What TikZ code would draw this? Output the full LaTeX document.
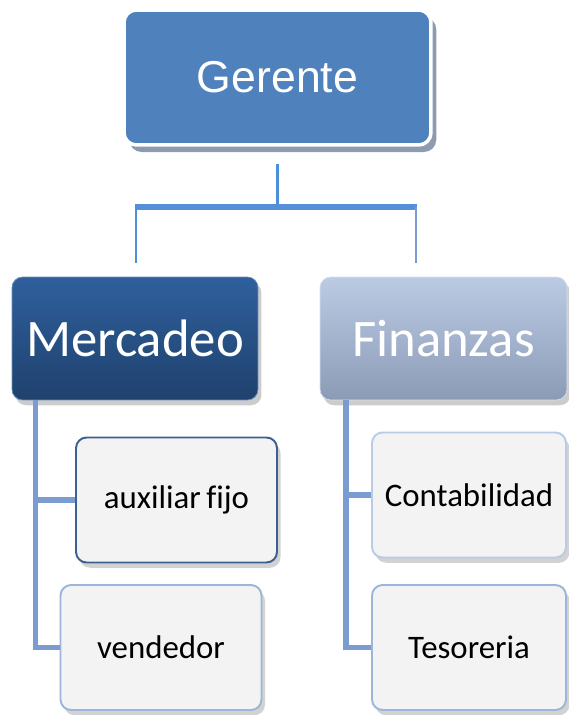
\documentclass[tikz,border=0pt]{standalone}
\usepackage{fontspec}
\setmainfont{Carlito}[Ligatures=NoCommon]
\newfontfamily\arialfont{Liberation Sans}
\usetikzlibrary{shadows}
\definecolor{gerenteblue}{HTML}{4F81BD}
\definecolor{mercadeotop}{HTML}{2F609C}
\definecolor{mercadeobot}{HTML}{1F416E}
\definecolor{finanzastop}{HTML}{BCCBE4}
\definecolor{finanzasbot}{HTML}{8B9BB6}
\definecolor{subfill}{HTML}{F3F3F3}
\definecolor{darkedge}{HTML}{3D608F}
\definecolor{lightedge}{HTML}{9DB5DB}
\definecolor{linkblue}{HTML}{4A8FD8}
\definecolor{barblue}{HTML}{558FD7}
\definecolor{trunkblue}{HTML}{7B9CD0}
\definecolor{shadowgray}{HTML}{8E9BAE}
\tikzstyle{topbox} = [rectangle, rounded corners=7pt, minimum width=6.14cm, minimum height=2.7cm, fill=gerenteblue, draw=white, line width=2pt, text=white, font=\arialfont\fontsize{25.4}{30}\selectfont, drop shadow={shadow xshift=3pt, shadow yshift=-4pt, fill=shadowgray, opacity=1}]
\tikzstyle{deptbox} = [rectangle, rounded corners=6pt, minimum width=4.92cm, minimum height=2.46cm, text=white, font=\fontsize{30}{36}\selectfont, drop shadow={shadow xshift=2pt, shadow yshift=-3pt, fill=gray, opacity=0.4}]
\tikzstyle{subbox} = [rectangle, rounded corners=6pt, minimum width=4.02cm, minimum height=2.5cm, fill=subfill, line width=1.1pt, text=black, font=\fontsize{18.7}{22}\selectfont, drop shadow={shadow xshift=2pt, shadow yshift=-3pt, fill=gray, opacity=0.35}]
\tikzstyle{link} = [line width=1.3pt, draw=linkblue]
\tikzstyle{bar} = [line width=3.6pt, draw=barblue]
\tikzstyle{branch} = [line width=3.4pt, draw=trunkblue]

\begin{document}
\begin{tikzpicture}[x=0.02cm, y=-0.02cm]
    \useasboundingbox [fill=white] (0,0) rectangle (568,715);

    \node [topbox] at (277.5,77.5) (gerente) {Gerente};
    \node [deptbox, top color=mercadeotop, bottom color=mercadeobot, draw=mercadeotop!70!white] at (135,338.5) (mercadeo) {Mercadeo};
    \node [deptbox, minimum width=4.94cm, top color=finanzastop, bottom color=finanzasbot, draw=finanzastop!60!white] at (443.5,338.5) (finanzas) {Finanzas};
    \node [subbox, draw=darkedge] at (176.5,500) (auxiliar) {auxiliar\,fijo};
    \node [subbox, draw=lightedge] at (161,647.5) (vendedor) {vendedor};
    \node [subbox, minimum width=3.88cm, draw=lightedge!70!white] at (469,495) (contabilidad) {Contabilidad};
    \node [subbox, minimum width=3.88cm, draw=lightedge] at (469,647.5) (tesoreria) {Tesoreria};

    \coordinate (barL) at (136,207);
    \coordinate (barR) at (416,207);
    \coordinate (mtrunk) at (35.5,400);
    \coordinate (ftrunk) at (346,400);

    \draw [link] ([yshift=-10pt]gerente.south) -- (gerente.south |- barL);
    \draw [bar] ([xshift=-0.6pt]barL) -- ([xshift=0.6pt]barR);
    \draw [link] (barL) -- ([yshift=8pt]barL |- mercadeo.north);
    \draw [link, draw=trunkblue] (barR) -- ([yshift=8pt]barR |- finanzas.north);
    \draw [branch] (mtrunk) |- (vendedor.west);
    \draw [branch] (mtrunk |- auxiliar.west) -- (auxiliar.west);
    \draw [branch] (ftrunk) |- (tesoreria.west);
    \draw [branch] (ftrunk |- contabilidad.west) -- (contabilidad.west);
\end{tikzpicture}
\end{document}
